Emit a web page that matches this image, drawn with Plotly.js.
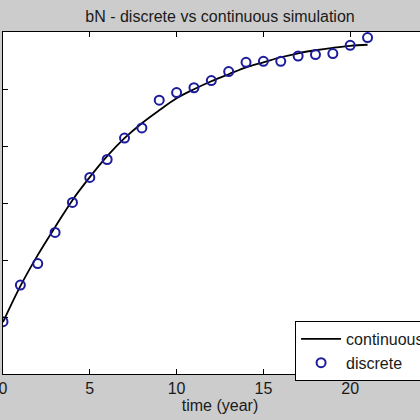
<!DOCTYPE html>
<html>
<head>
<meta charset="utf-8">
<script src="https://cdn.plot.ly/plotly-3.0.1.min.js"></script>
<style>
html, body { margin: 0; padding: 0; width: 420px; height: 420px; overflow: hidden; background: #cccccc; }
#chart { position: absolute; left: -60px; top: 0; width: 517px; height: 420px; }
</style>
</head>
<body>
<div id="chart"></div>
<script>
// time (years)
var tCont = [0,1,2,3,4,5,6,7,8,9,10,11,12,13,14,15,16,17,18,19,20,21];
var bNContinuous = [0.911,1.542,2.086,2.577,3.050,3.453,3.821,4.137,4.400,4.627,4.838,4.996,5.136,5.259,5.381,5.469,5.557,5.627,5.680,5.723,5.758,5.776];
var tDisc = [0,1,2,3,4,5,6,7,8,9,10,11,12,13,14,15,16,17,18,19,20,21];
var bNDiscrete = [0.917,1.560,1.937,2.484,3.010,3.448,3.763,4.140,4.317,4.803,4.938,5.022,5.148,5.306,5.469,5.486,5.486,5.579,5.604,5.621,5.767,5.902];
var xTicks = [0,5,10,15,20,25];
var yTicks = [0,1,2,3,4,5,6];

var font = 'Liberation Sans, Arial, Helvetica, sans-serif';
var txt = '#1a1a1a';

var traces = [
  {
    x: tCont, y: bNContinuous, name: 'continuous', type: 'scatter', mode: 'lines',
    line: {color: '#000000', width: 1.8, shape: 'spline'}
  },
  {
    x: tDisc, y: bNDiscrete, name: 'discrete', type: 'scatter', mode: 'markers',
    marker: {symbol: 'circle-open', size: 9, color: '#1c1c9c', line: {color: '#1c1c9c', width: 2}}
  }
];

var layout = {
  width: 517, height: 420,
  paper_bgcolor: '#cccccc',
  plot_bgcolor: '#ffffff',
  margin: {l: 63, r: 20, t: 32, b: 46},
  font: {family: font, size: 16, color: txt},
  title: {text: 'bN - discrete vs continuous simulation', font: {family: font, size: 16, color: txt},
          x: 0.5, xref: 'paper', y: 1 - 16/420, yref: 'container', yanchor: 'middle'},
  showlegend: true,
  legend: {x: 0.673, y: 0.155, xanchor: 'left', yanchor: 'top', bgcolor: '#ffffff',
           bordercolor: '#000000', borderwidth: 1, font: {family: font, size: 16, color: txt},
           itemwidth: 40, tracegroupgap: 0},
  xaxis: {
    range: [0, 25], tickvals: xTicks, ticktext: xTicks.map(String),
    showgrid: false, zeroline: false, showline: true, linecolor: '#000000', linewidth: 1, mirror: 'ticks',
    ticks: 'inside', ticklen: 5, tickcolor: '#000000',
    tickfont: {family: font, size: 16, color: txt},
    title: {text: 'time (year)', font: {family: font, size: 16, color: txt}, standoff: 3}
  },
  yaxis: {
    range: [0, 6], tickvals: yTicks, ticktext: yTicks.map(String),
    showgrid: false, zeroline: false, showline: true, linecolor: '#000000', linewidth: 1, mirror: 'ticks',
    ticks: 'inside', ticklen: 5, tickcolor: '#000000', ticklabelstandoff: 8,
    tickfont: {family: font, size: 16, color: txt}
  }
};

Plotly.newPlot('chart', traces, layout, {displayModeBar: false, staticPlot: true});
</script>
</body>
</html>
